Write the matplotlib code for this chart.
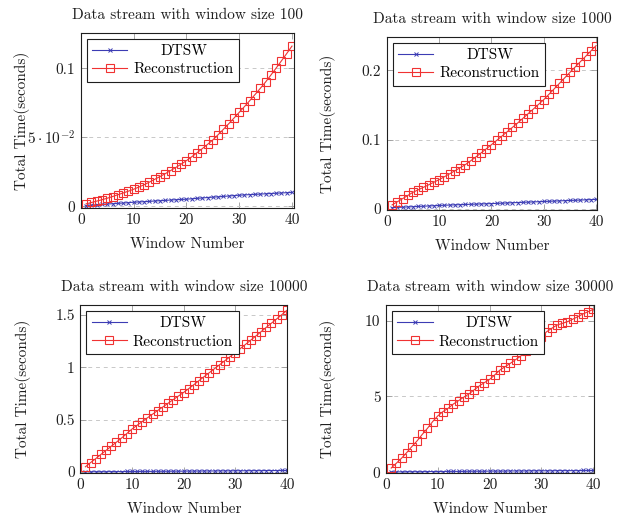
import matplotlib
matplotlib.use("Agg")
import matplotlib.pyplot as plt

plt.rcParams["font.family"] = ["cmr10", "DejaVu Serif"]
plt.rcParams["mathtext.fontset"] = "cm"
plt.rcParams["axes.formatter.use_mathtext"] = True

windows = list(range(1, 41))

titles = [
    "Data stream with window size 100",
    "Data stream with window size 1000",
    "Data stream with window size 10000",
    "Data stream with window size 30000",
]

# window size 100
dtsw_100 = [0.0005, 0.0008, 0.0011, 0.0013, 0.0016, 0.0018, 0.0021, 0.0023, 0.0026, 0.0029,
            0.0031, 0.0033, 0.0035, 0.0038, 0.0040, 0.0042, 0.0045, 0.0047, 0.0049, 0.0051,
            0.0054, 0.0057, 0.0060, 0.0063, 0.0066, 0.0068, 0.0071, 0.0074, 0.0077, 0.0080,
            0.0082, 0.0084, 0.0086, 0.0088, 0.0090, 0.0092, 0.0094, 0.0096, 0.0098, 0.0100]
recon_100 = [0.0017, 0.0027, 0.0037, 0.0047, 0.0058, 0.0070, 0.0083, 0.0096, 0.0109, 0.0123,
             0.0139, 0.0156, 0.0175, 0.0195, 0.0215, 0.0236, 0.0258, 0.0281, 0.0305, 0.0330,
             0.0358, 0.0387, 0.0417, 0.0448, 0.0480, 0.0518, 0.0557, 0.0597, 0.0638, 0.0680,
             0.0722, 0.0765, 0.0809, 0.0854, 0.0900, 0.0950, 0.1001, 0.1053, 0.1106, 0.1160]

# window size 1000
dtsw_1000 = [0.0020, 0.0024, 0.0027, 0.0031, 0.0034, 0.0038, 0.0041, 0.0045, 0.0048, 0.0052,
             0.0055, 0.0058, 0.0061, 0.0063, 0.0066, 0.0069, 0.0071, 0.0074, 0.0076, 0.0079,
             0.0082, 0.0085, 0.0088, 0.0091, 0.0094, 0.0097, 0.0100, 0.0103, 0.0106, 0.0109,
             0.0112, 0.0115, 0.0118, 0.0121, 0.0124, 0.0127, 0.0130, 0.0133, 0.0136, 0.0140]
recon_1000 = [0.0060, 0.0105, 0.0150, 0.0196, 0.0242, 0.0278, 0.0314, 0.0350, 0.0387, 0.0424,
              0.0466, 0.0508, 0.0551, 0.0595, 0.0640, 0.0694, 0.0750, 0.0808, 0.0868, 0.0928,
              0.0990, 0.1052, 0.1114, 0.1177, 0.1240, 0.1307, 0.1374, 0.1441, 0.1509, 0.1577,
              0.1655, 0.1733, 0.1812, 0.1891, 0.1970, 0.2047, 0.2124, 0.2201, 0.2278, 0.2355]

# window size 10000
dtsw_10000 = [0.002, 0.002, 0.003, 0.003, 0.003, 0.004, 0.004, 0.004, 0.005, 0.005,
              0.005, 0.006, 0.006, 0.006, 0.007, 0.007, 0.007, 0.008, 0.008, 0.008,
              0.009, 0.009, 0.009, 0.010, 0.010, 0.010, 0.011, 0.011, 0.011, 0.012,
              0.012, 0.012, 0.013, 0.013, 0.013, 0.014, 0.014, 0.014, 0.015, 0.015]
recon_10000 = [0.050, 0.090, 0.128, 0.168, 0.207, 0.246, 0.285, 0.325, 0.367, 0.410,
               0.446, 0.482, 0.518, 0.553, 0.588, 0.622, 0.657, 0.692, 0.726, 0.760,
               0.797, 0.835, 0.874, 0.912, 0.950, 0.988, 1.026, 1.064, 1.102, 1.140,
               1.180, 1.220, 1.260, 1.300, 1.341, 1.382, 1.422, 1.462, 1.503, 1.545]

# window size 30000
dtsw_30000 = [0.03, 0.03, 0.03, 0.04, 0.04, 0.04, 0.04, 0.05, 0.05, 0.05,
              0.05, 0.06, 0.06, 0.06, 0.06, 0.07, 0.07, 0.07, 0.07, 0.08,
              0.08, 0.08, 0.08, 0.09, 0.09, 0.09, 0.09, 0.10, 0.10, 0.10,
              0.10, 0.10, 0.11, 0.11, 0.11, 0.11, 0.11, 0.12, 0.12, 0.12]
recon_30000 = [0.28, 0.60, 0.93, 1.30, 1.70, 2.07, 2.50, 2.90, 3.34, 3.72,
               4.00, 4.22, 4.50, 4.72, 4.95, 5.16, 5.43, 5.69, 5.91, 6.12,
               6.42, 6.74, 6.96, 7.18, 7.42, 7.66, 7.97, 8.28, 8.60, 8.93,
               9.26, 9.49, 9.70, 9.81, 9.92, 10.08, 10.25, 10.43, 10.58, 10.74]

dtsw = [dtsw_100, dtsw_1000, dtsw_10000, dtsw_30000]
recon = [recon_100, recon_1000, recon_10000, recon_30000]

yticks = [[0, 0.05, 0.1], [0, 0.1, 0.2], [0, 0.5, 1, 1.5], [0, 5, 10]]
yticklabels = [["0", r"$5\cdot10^{-2}$", "0.1"], ["0", "0.1", "0.2"],
               ["0", "0.5", "1", "1.5"], ["0", "5", "10"]]
xticks = [0, 10, 20, 30, 40]
ylims = [(-0.0012, 0.1256), (-0.0013, 0.248), (-0.01, 1.596), (-0.05, 11.02)]
xmaxs = [40.3, 40.2, 40.1, 40.1]

positions = [
    [0.130, 0.601, 0.342, 0.336],
    [0.622, 0.597, 0.338, 0.332],
    [0.129, 0.092, 0.333, 0.3225],
    [0.6206, 0.092, 0.334, 0.3225],
]

blue = "#3c3cb4"
red = "#f03232"
ink = "#1e1e1e"
fs = 11

fig = plt.figure(figsize=(6.22, 5.21), dpi=100)

for i in range(4):
    ax = fig.add_axes(positions[i])
    ax.plot(windows, dtsw[i], color=blue, marker="x", markersize=3.2,
            markeredgewidth=0.7, linewidth=0.8, label="DTSW")
    ax.plot(windows, recon[i], color=red, marker="s", markersize=5.4,
            markerfacecolor="none", markeredgewidth=0.8, linewidth=0.8,
            label="Reconstruction")
    ax.set_xlim(0, xmaxs[i])
    ax.set_ylim(*ylims[i])
    ax.set_xticks(xticks)
    ax.set_xticklabels([str(t) for t in xticks])
    ax.set_yticks(yticks[i])
    ax.set_yticklabels(yticklabels[i])
    ax.tick_params(direction="in", top=True, right=True, length=4,
                   width=0.6, labelsize=fs, colors="#999999",
                   labelcolor=ink, pad=4)
    ax.yaxis.grid(True, linestyle=(0, (4, 4)), color="#c8c8c8", linewidth=0.7)
    ax.set_axisbelow(True)
    for sp in ax.spines.values():
        sp.set_linewidth(0.8)
        sp.set_color(ink)
    ax.set_title(titles[i], fontsize=fs, pad=10, color=ink)
    ax.set_xlabel("Window Number", fontsize=fs, labelpad=7, color=ink)
    ax.set_ylabel("Total Time(seconds)", fontsize=fs, color=ink)
    ax.yaxis.set_label_coords(-0.24, 0.5)
    leg = ax.legend(loc="upper left", fontsize=fs, frameon=True, fancybox=False,
                    framealpha=1, edgecolor=ink, borderpad=0.35,
                    handlelength=2.3, handletextpad=0.4, labelspacing=0.3,
                    borderaxespad=0.4)
    leg.get_frame().set_linewidth(0.8)

fig.canvas.draw()
renderer = fig.canvas.get_renderer()
for ax in fig.axes:
    texts = ax.get_legend().get_texts()
    w0 = texts[0].get_window_extent(renderer).width
    w1 = texts[1].get_window_extent(renderer).width
    texts[0].set_x((w1 - w0) / 2)

fig.savefig("out.png", dpi=100)
